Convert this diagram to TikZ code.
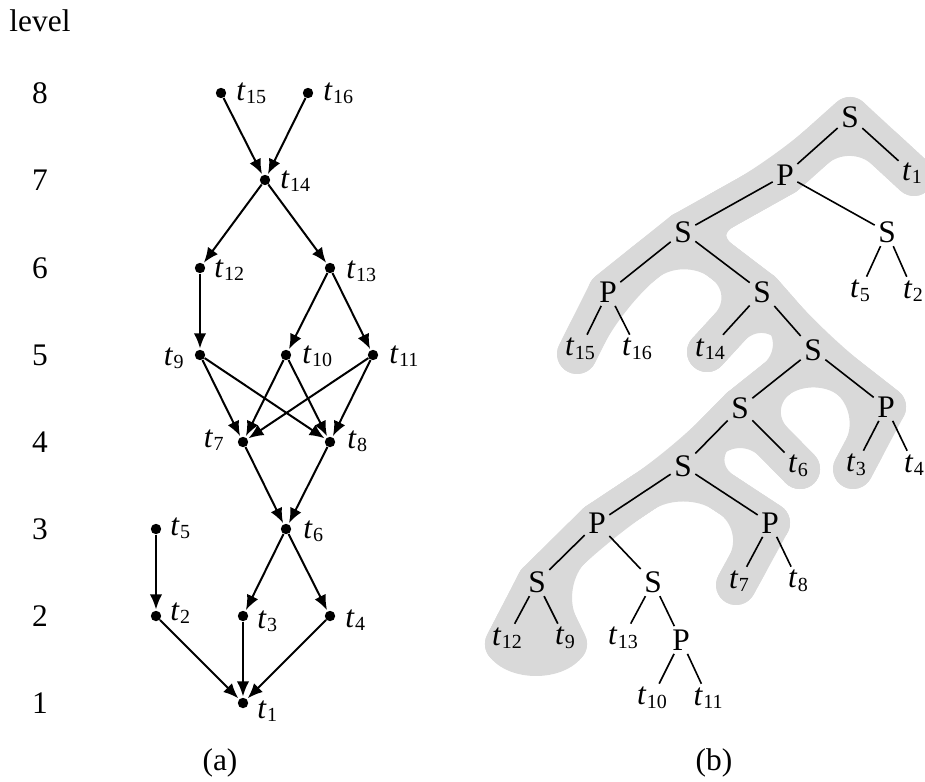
\documentclass[tikz,border=0pt]{standalone}
\usepackage{fontspec}
\setmainfont{Liberation Serif}
\usetikzlibrary{arrows.meta,backgrounds,calc}
\newcommand{\tsub}[1]{\textit{t}\kern0.2pt\raisebox{-1.8pt}{\fontsize{10}{11}\selectfont #1}}
\begin{document}
\begin{tikzpicture}[x=0.5pt,y=-0.5pt,
  font=\fontsize{15.7}{18}\selectfont,
  dot/.style={circle, fill=black, inner sep=0pt, minimum size=5.2pt},
  lab/.style={inner sep=0pt},
  arr/.style={line width=1pt, -{Latex[length=7.5pt,width=6.2pt]}, shorten >=0.5pt},
  tn/.style={inner sep=1.6pt},
  tedge/.style={line width=0.8pt},
  blob/.style={draw=black!15, line width=20pt, line cap=round, line join=round},
  fillet/.style={blob, rounded corners=24pt}]
\useasboundingbox (0,0) rectangle (925,781);

% ---------- (a) ----------
\node[lab] (lev) at (40,21) {level};
\foreach \n/\y in {8/93,7/180,6/268,5/355,4/442,3/529,2/616,1/703}
  \node[lab] (lv\n) at (40,\y) {\n};

\node[dot] (t15) at (221,93) {};
\node[dot] (t16) at (308,93) {};
\node[dot] (t14) at (265,180) {};
\node[dot] (t12) at (200,268) {};
\node[dot] (t13) at (330,268) {};
\node[dot] (t9)  at (200,355) {};
\node[dot] (t10) at (286,355) {};
\node[dot] (t11) at (373,355) {};
\node[dot] (t7)  at (243,442) {};
\node[dot] (t8)  at (330,442) {};
\node[dot] (t6)  at (286,529) {};
\node[dot] (t5)  at (156,529) {};
\node[dot] (t2)  at (156,616) {};
\node[dot] (t3)  at (243,616) {};
\node[dot] (t4)  at (330,616) {};
\node[dot] (t1)  at (243,703) {};

\node[lab,anchor=base west] (l15) at (236,100) {\tsub{15}};
\node[lab,anchor=base west] (l16) at (323,100) {\tsub{16}};
\node[lab,anchor=base west] (l14) at (280,188) {\tsub{14}};
\node[lab,anchor=base west] (l12) at (214,277) {\tsub{12}};
\node[lab,anchor=base west] (l13) at (346,278) {\tsub{13}};
\node[lab,anchor=base east] (l9)  at (184,365) {\tsub{9}};
\node[lab,anchor=base west] (l10) at (302,363) {\tsub{10}};
\node[lab,anchor=base west] (l11) at (389,363) {\tsub{11}};
\node[lab,anchor=base east] (l7)  at (224,447) {\tsub{7}};
\node[lab,anchor=base west] (l8)  at (347,448) {\tsub{8}};
\node[lab,anchor=base west] (l6)  at (303,538) {\tsub{6}};
\node[lab,anchor=base west] (l5)  at (170,535) {\tsub{5}};
\node[lab,anchor=base west] (l2)  at (170,620) {\tsub{2}};
\node[lab,anchor=base west] (l3)  at (257,628) {\tsub{3}};
\node[lab,anchor=base west] (l4)  at (345,627) {\tsub{4}};
\node[lab,anchor=base west] (l1)  at (257,718) {\tsub{1}};

\foreach \a/\b in {t15/t14,t16/t14,t14/t12,t14/t13,t12/t9,t13/t10,t13/t11,
  t9/t7,t9/t8,t10/t7,t10/t8,t11/t7,t11/t8,t7/t6,t8/t6,t6/t3,t6/t4,
  t5/t2,t2/t1,t3/t1,t4/t1}
  \draw[arr] (\a) -- (\b);

\node[lab] (capa) at (220,763) {(a)};

% ---------- (b) ----------
\node[tn] (S0)  at (850,117) {S};
\node[tn] (t1b) at (912,173) {\tsub{1}};
\node[tn] (P1)  at (785,175) {P};
\node[tn] (Sa)  at (887,232) {S};
\node[tn] (t5b) at (860,291) {\tsub{5}};
\node[tn] (t2b) at (913,291) {\tsub{2}};
\node[tn] (S2)  at (683,232) {S};
\node[tn] (P3)  at (608,292) {P};
\node[tn] (t15b) at (580,349) {\tsub{15}};
\node[tn] (t16b) at (637,349) {\tsub{16}};
\node[tn] (S4)  at (762,292) {S};
\node[tn] (t14b) at (710,349) {\tsub{14}};
\node[tn] (S5)  at (813,350) {S};
\node[tn] (P6)  at (886,407) {P};
\node[tn] (t3b) at (856,465) {\tsub{3}};
\node[tn] (t4b) at (914,465) {\tsub{4}};
\node[tn] (S7)  at (740,408) {S};
\node[tn] (t6b) at (798,466) {\tsub{6}};
\node[tn] (S8)  at (683,466) {S};
\node[tn] (P9)  at (770,523) {P};
\node[tn] (t7b) at (739,581) {\tsub{7}};
\node[tn] (t8b) at (798,581) {\tsub{8}};
\node[tn] (P10) at (597,523) {P};
\node[tn] (S11) at (537,582) {S};
\node[tn] (t12b) at (507,638) {\tsub{12}};
\node[tn] (t9b) at (565,638) {\tsub{9}};
\node[tn] (S12) at (653,582) {S};
\node[tn] (t13b) at (623,638) {\tsub{13}};
\node[tn] (P13) at (681,640) {P};
\node[tn] (t10b) at (652,698) {\tsub{10}};
\node[tn] (t11b) at (708,698) {\tsub{11}};

\foreach \a/\b in {S0/P1,S0/t1b,P1/S2,P1/Sa,Sa/t5b,Sa/t2b,S2/P3,S2/S4,
  P3/t15b,P3/t16b,S4/t14b,S4/S5,S5/S7,S5/P6,P6/t3b,P6/t4b,S7/S8,S7/t6b,
  S8/P10,S8/P9,P9/t7b,P9/t8b,P10/S11,P10/S12,S11/t12b,S11/t9b,S12/t13b,
  S12/P13,P13/t10b,P13/t11b}
  \draw[tedge] (\a) -- (\b);

\begin{scope}[on background layer]
  \coordinate (e1)  at ($(t1b.center)+(2,3)$);
  \coordinate (e15) at ($(t15b.center)+(-3,5)$);
  \coordinate (e14) at ($(t14b.center)+(-3,3)$);
  \coordinate (e3)  at ($(t3b.center)+(-3,4)$);
  \coordinate (e6)  at ($(t6b.center)+(2,3)$);
  \coordinate (e7)  at ($(t7b.center)+(-3,4)$);
  \coordinate (e12) at ($(t12b.center)+(-2,6)$);
  \coordinate (e9)  at ($(t9b.center)+(2,6)$);
  \draw[blob] (e1) -- (S0.center) -- (P1.center) -- (S2.center) -- (P3.center) -- (e15);
  \draw[blob] (S2.center) -- (S4.center) -- (e14);
  \draw[blob] (S4.center) -- (S5.center) -- (P6.center) -- (e3);
  \draw[blob] (S5.center) -- (S7.center) -- (e6);
  \draw[blob] (S7.center) -- (S8.center) -- (P9.center) -- (e7);
  \draw[blob] (S8.center) -- (P10.center) -- (S11.center) -- (e12);
  \draw[blob,fill=black!15] (S11.center) -- (e12)
     .. controls ($(e12)+(12,16)$) and ($(e9)+(-12,16)$) .. (e9) -- cycle;
  \foreach \a/\b/\c in {e1/S0/P1, S0/P1/S2, P1/S2/P3, P1/S2/S4, P3/S2/S4,
    S2/P3/e15, S2/S4/e14, S2/S4/S5, e14/S4/S5, S4/S5/P6, S4/S5/S7, S7/S5/P6,
    S5/P6/e3, S5/S7/e6, S5/S7/S8, S8/S7/e6, S7/S8/P9, S7/S8/P10, P10/S8/P9,
    S8/P9/e7, S8/P10/S11, P10/S11/e12, P10/S11/e9}
    \draw[fillet] (\a.center) -- (\b.center) -- (\c.center);
\end{scope}

\node[lab] (capb) at (714,763) {(b)};
\end{tikzpicture}
\end{document}
